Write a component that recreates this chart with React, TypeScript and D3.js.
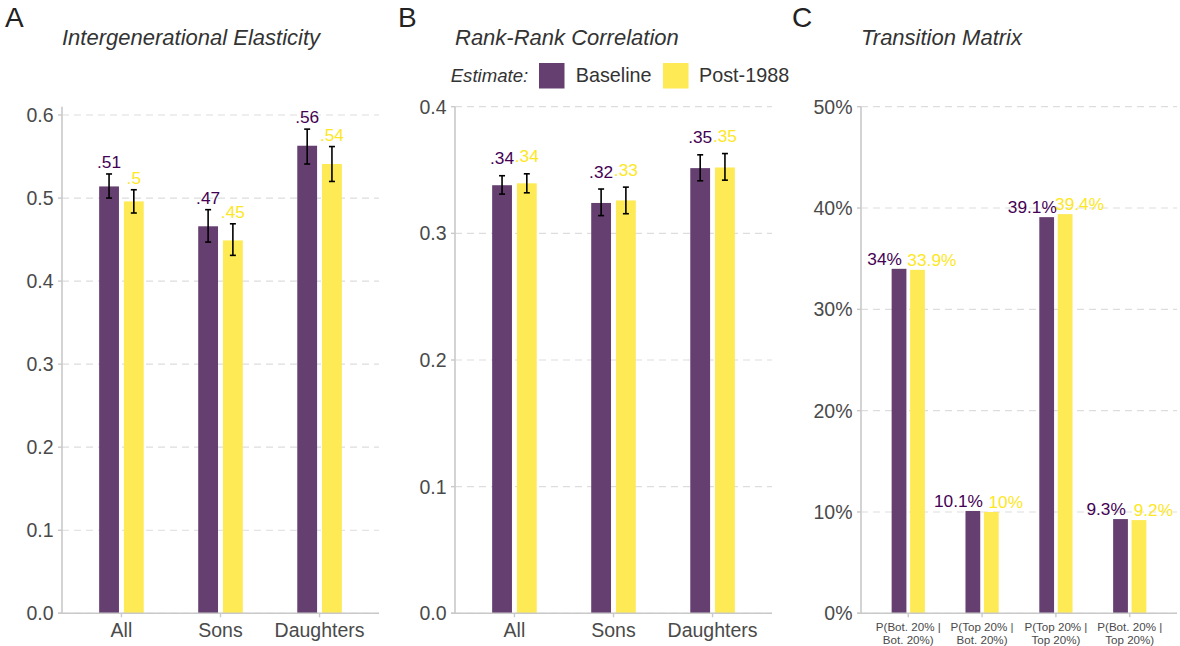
import React from 'react';
import * as d3 from 'd3';

// ---------- data ----------
const seriesNames = ['Baseline', 'Post-1988'];
const groupsAB = ['All', 'Sons', 'Daughters'];

// Panel A: Intergenerational Elasticity
const igeBaseline = [0.514, 0.466, 0.563];
const igeBaselineLo = [0.5, 0.447, 0.541];
const igeBaselineHi = [0.529, 0.486, 0.583];
const igePost = [0.496, 0.449, 0.541];
const igePostLo = [0.482, 0.431, 0.52];
const igePostHi = [0.51, 0.469, 0.562];
const igeTicks = [0, 0.1, 0.2, 0.3, 0.4, 0.5, 0.6];

// Panel B: Rank-Rank Correlation
const rrBaseline = [0.338, 0.324, 0.3515];
const rrBaselineLo = [0.331, 0.314, 0.3415];
const rrBaselineHi = [0.3455, 0.335, 0.362];
const rrPost = [0.3395, 0.326, 0.352];
const rrPostLo = [0.332, 0.3155, 0.342];
const rrPostHi = [0.347, 0.3365, 0.363];
const rrTicks = [0, 0.1, 0.2, 0.3, 0.4];

// Panel C: Transition Matrix (percent)
const tmGroups = [
  ['P(Bot. 20% |', 'Bot. 20%)'],
  ['P(Top 20% |', 'Bot. 20%)'],
  ['P(Top 20% |', 'Top 20%)'],
  ['P(Bot. 20% |', 'Top 20%)'],
];
const tmBaseline = [34.0, 10.1, 39.1, 9.3];
const tmPost = [33.9, 10.0, 39.4, 9.2];
const tmTicks = [0, 10, 20, 30, 40, 50];

// ---------- style ----------
const FONT = '"Liberation Sans", Arial, Helvetica, sans-serif';
const PURPLE_TXT = '#440154';
const YELLOW_TXT = '#FDE725';
const PURPLE_FILL = '#653f70';
const YELLOW_FILL = '#fdea55';
const AXIS = '#c9c9c9';
const GRID = '#dddddd';
const TICKTXT = '#4a4a4a';

const PANEL_TOP = 106.7;
const PANEL_BOTTOM = 613.3;

type PanelProps = {
  letter: string;
  letterX: number;
  title: string;
  left: number;
  right: number;
  pad: number;
  yMax: number;
  ticks: number[];
  tickFmt: (v: number) => string;
  cats: string[][];
  catFont: number;
  catBaseline: number;
  base: number[];
  post: number[];
  baseLo?: number[];
  baseHi?: number[];
  postLo?: number[];
  postHi?: number[];
  labelFmt: (v: number) => string;
  labelOffsetPx: number;
  labelDodge: number;
};

function Panel(p: PanelProps) {
  const idx = p.cats.map((_, i) => String(i));
  const x = d3.scalePoint<string>().domain(idx).range([p.left, p.right]).padding(p.pad);
  const step = x.step();
  const y = d3.scaleLinear().domain([0, p.yMax]).range([PANEL_BOTTOM, PANEL_TOP]);
  const bw = 0.2 * step;
  const off = 0.125 * step;
  const series = [
    { vals: p.base, lo: p.baseLo, hi: p.baseHi, fill: PURPLE_FILL, txt: PURPLE_TXT, sign: -1 },
    { vals: p.post, lo: p.postLo, hi: p.postHi, fill: YELLOW_FILL, txt: YELLOW_TXT, sign: 1 },
  ];
  return (
    <g>
      <text x={p.letterX} y={26.7} fontSize={28} fill="#222" fontFamily={FONT}>
        {p.letter}
      </text>
      <text x={p.left} y={45} fontSize={22} fontStyle="italic" fill="#333" fontFamily={FONT}>
        {p.title}
      </text>
      {/* grid */}
      {p.ticks.map((t) => (
        <line
          key={'g' + t}
          x1={p.left}
          x2={p.right}
          y1={y(t)}
          y2={y(t)}
          stroke={GRID}
          strokeWidth={1.2}
          strokeDasharray="7,5"
        />
      ))}
      {/* bars */}
      {series.map((s, si) =>
        s.vals.map((v, i) => {
          const cx = (x(String(i)) as number) + s.sign * off;
          return (
            <rect
              key={'b' + si + i}
              x={cx - bw / 2}
              y={y(v)}
              width={bw}
              height={y(0) - y(v)}
              fill={s.fill}
            />
          );
        })
      )}
      {/* error bars */}
      {series.map((s, si) =>
        s.lo && s.hi
          ? s.vals.map((_, i) => {
              const cx = (x(String(i)) as number) + s.sign * off;
              const y1 = y(s.hi![i]);
              const y2 = y(s.lo![i]);
              return (
                <g key={'e' + si + i} stroke="#000" strokeWidth={1.6}>
                  <line x1={cx} x2={cx} y1={y1} y2={y2} />
                  <line x1={cx - 3} x2={cx + 3} y1={y1} y2={y1} />
                  <line x1={cx - 3} x2={cx + 3} y1={y2} y2={y2} />
                </g>
              );
            })
          : null
      )}
      {/* value labels */}
      {series.map((s, si) =>
        s.vals.map((v, i) => {
          const cx = (x(String(i)) as number) + s.sign * p.labelDodge * step;
          const top = s.hi ? s.hi[i] : v;
          return (
            <text
              key={'l' + si + i}
              x={cx}
              y={y(top) - p.labelOffsetPx}
              fontSize={17.3}
              textAnchor="middle"
              fill={s.txt}
              fontFamily={FONT}
            >
              {p.labelFmt(v)}
            </text>
          );
        })
      )}
      {/* axes */}
      <line x1={p.left} x2={p.left} y1={PANEL_TOP} y2={PANEL_BOTTOM} stroke={AXIS} strokeWidth={1.6} />
      <line x1={p.left - 4} x2={p.right} y1={PANEL_BOTTOM} y2={PANEL_BOTTOM} stroke={AXIS} strokeWidth={1.6} />
      {p.ticks.map((t) => (
        <g key={'t' + t}>
          <line x1={p.left - 4} x2={p.left} y1={y(t)} y2={y(t)} stroke={AXIS} strokeWidth={1.4} />
          <text
            x={p.left - 8.5}
            y={y(t)}
            dy="0.36em"
            textAnchor="end"
            fontSize={19.5}
            fill={TICKTXT}
            fontFamily={FONT}
          >
            {p.tickFmt(t)}
          </text>
        </g>
      ))}
      {p.cats.map((c, i) => {
        const cx = x(String(i)) as number;
        return (
          <g key={'c' + i}>
            <line x1={cx} x2={cx} y1={PANEL_BOTTOM} y2={PANEL_BOTTOM + 4} stroke={AXIS} strokeWidth={1.4} />
            <text textAnchor="middle" fontSize={p.catFont} fill={TICKTXT} fontFamily={FONT}>
              {c.map((line, li) => (
                <tspan key={li} x={cx} y={p.catBaseline + li * 13}>
                  {line}
                </tspan>
              ))}
            </text>
          </g>
        );
      })}
    </g>
  );
}

const decFmt = (v: number) => d3.format('.2~f')(v).replace(/^0\./, '.');
const pctFmt = (v: number) => d3.format('.1~f')(v) + '%';

export default function App() {
  return (
    <svg
      width={1180}
      height={646}
      style={{ position: 'absolute', left: 0, top: 0, background: '#fff' }}
      fontFamily={FONT}
    >
      <rect width={1180} height={646} fill="#fff" />
      <Panel
        letter="A"
        letterX={5}
        title="Intergenerational Elasticity"
        left={62}
        right={379}
        pad={0.6}
        yMax={0.61}
        ticks={igeTicks}
        tickFmt={d3.format('.1f')}
        cats={groupsAB.map((g) => [g])}
        catFont={19.5}
        catBaseline={637}
        base={igeBaseline}
        post={igePost}
        baseLo={igeBaselineLo}
        baseHi={igeBaselineHi}
        postLo={igePostLo}
        postHi={igePostHi}
        labelFmt={decFmt}
        labelOffsetPx={6}
        labelDodge={0.125}
      />
      <Panel
        letter="B"
        letterX={398}
        title="Rank-Rank Correlation"
        left={455}
        right={772}
        pad={0.6}
        yMax={0.4}
        ticks={rrTicks}
        tickFmt={d3.format('.1f')}
        cats={groupsAB.map((g) => [g])}
        catFont={19.5}
        catBaseline={637}
        base={rrBaseline}
        post={rrPost}
        baseLo={rrBaselineLo}
        baseHi={rrBaselineHi}
        postLo={rrPostLo}
        postHi={rrPostHi}
        labelFmt={decFmt}
        labelOffsetPx={11.5}
        labelDodge={0.125}
      />
      <Panel
        letter="C"
        letterX={792}
        title="Transition Matrix"
        left={861}
        right={1177}
        pad={0.64}
        yMax={50}
        ticks={tmTicks}
        tickFmt={(v) => d3.format('d')(v) + '%'}
        cats={tmGroups}
        catFont={11.6}
        catBaseline={630.5}
        base={tmBaseline}
        post={tmPost}
        labelFmt={pctFmt}
        labelOffsetPx={4}
        labelDodge={0.32}
      />
      {/* legend */}
      <g fontFamily={FONT} fontSize={19.8}>
        <text x={450.7} y={81.7} fontStyle="italic" fill="#333" fontSize={18.6}>
          Estimate:
        </text>
        <rect x={539} y={63} width={25.5} height={25.5} fill={PURPLE_FILL} />
        <text x={575.7} y={81.7} fill="#333">
          {seriesNames[0]}
        </text>
        <rect x={663} y={63} width={25.5} height={25.5} fill={YELLOW_FILL} />
        <text x={699} y={81.7} fill="#333">
          {seriesNames[1]}
        </text>
      </g>
    </svg>
  );
}
